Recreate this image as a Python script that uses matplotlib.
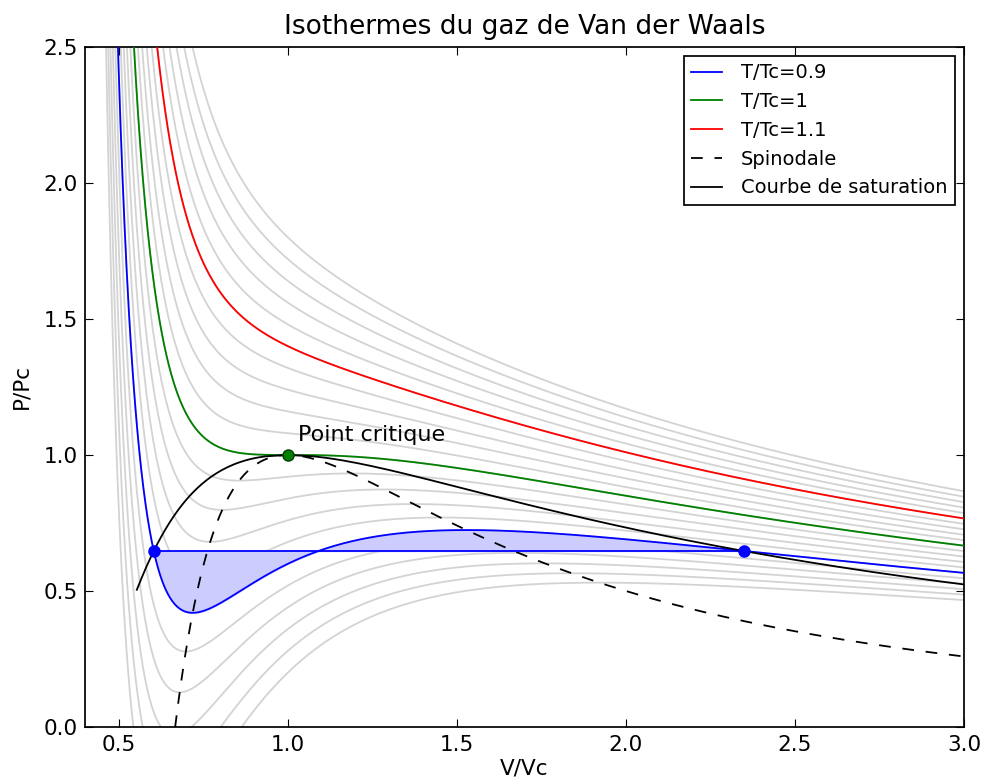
import numpy as np
import matplotlib
matplotlib.use('Agg')
import matplotlib.pyplot as plt

# reduced temperatures of the isotherm family (grey) and the highlighted ones
t_family = [0.80, 0.82, 0.84, 0.86, 0.88, 0.90, 0.92, 0.94, 0.96, 0.98, 1.00,
            1.02, 1.04, 1.06, 1.08, 1.10, 1.12, 1.14, 1.16, 1.18, 1.20]
t_highlight = [0.9, 1.0, 1.1]
highlight_colors = ['b', 'g', 'r']
highlight_labels = ['T/Tc=0.9', 'T/Tc=1', 'T/Tc=1.1']
t_saturation = (0.85, 1.0)   # range of the saturation curve
t_maxwell = 0.9              # isotherm with the Maxwell plateau


def vdw(v, t):
    # reduced Van der Waals equation
    return 8 * t / (3 * v - 1) - 3 / v ** 2


def roots(p, t):
    r = np.roots([3 * p, -(p + 8 * t), 9, -3])
    r = np.sort(r[np.abs(r.imag) < 1e-9].real)
    return r[0], r[-1]


def maxwell(t):
    if t >= 0.9999:
        return 1.0, 1.0, 1.0
    vv = np.linspace(0.4, 10, 20000)
    pp = vdw(vv, t)
    dp = np.diff(pp)
    idx = np.where(np.sign(dp[1:]) != np.sign(dp[:-1]))[0]
    pmin, pmax = pp[idx[0] + 1], pp[idx[1] + 1]
    lo, hi = max(pmin, 1e-6), pmax
    for _ in range(80):
        p = 0.5 * (lo + hi)
        vl, vg = roots(p, t)
        area = (8 * t / 3) * np.log((3 * vg - 1) / (3 * vl - 1)) + 3 * (1 / vg - 1 / vl) - p * (vg - vl)
        if area > 0:
            lo = p
        else:
            hi = p
    return p, vl, vg


plt.rcParams.update({
    'xtick.direction': 'in', 'ytick.direction': 'in',
    'xtick.top': True, 'ytick.right': True,
    'xtick.major.size': 5.5, 'ytick.major.size': 5.5,
    'xtick.major.pad': 6, 'ytick.major.pad': 5,
    'font.size': 15.5, 'axes.linewidth': 1.25,
})

fig = plt.figure(figsize=(9.86, 7.82), dpi=100)
ax = fig.add_axes([0.0862, 0.0703, 0.8915, 0.8697])

v = np.linspace(0.42, 3.05, 3000)
for t in t_family:
    ax.plot(v, vdw(v, t), color='lightgray', lw=1.3, zorder=1)

for t, c, lab in zip(t_highlight, highlight_colors, highlight_labels):
    ax.plot(v, vdw(v, t), color=c, lw=1.3, label=lab, zorder=3)

# spinodal
vs = np.linspace(2 / 3, 3.0, 500)
ax.plot(vs, (3 * vs - 2) / vs ** 3, 'k--', lw=1.3, dashes=(6.5, 6.5), label='Spinodale', zorder=3)

# saturation curve (Maxwell construction)
ts = np.linspace(t_saturation[0], t_saturation[1], 120)
sat = np.array([maxwell(t) for t in ts])
v_sat = np.concatenate([sat[:, 1], sat[::-1, 2]])
p_sat = np.concatenate([sat[:, 0], sat[::-1, 0]])
ax.plot(v_sat, p_sat, 'k-', lw=1.3, label='Courbe de saturation', zorder=4)

# Maxwell plateau for T/Tc=0.9
ps, vl, vg = maxwell(t_maxwell)
vf = np.linspace(vl, vg, 1000)
ax.fill_between(vf, vdw(vf, t_maxwell), ps, color=(0.8, 0.8, 1.0), zorder=2)
ax.plot([vl, vg], [ps, ps], 'b-', lw=1.3, zorder=3)
ax.plot([vl, vg], [ps, ps], 'bo', ms=8, zorder=5)

ax.plot([1.0], [1.0], 'o', color='g', mec='#004000', ms=8, zorder=5)
ax.text(1.03, 1.05, 'Point critique', fontsize=16)

ax.set_xlim(0.4, 3.0)
ax.set_ylim(0.0, 2.5)
ax.set_xticks([0.5, 1.0, 1.5, 2.0, 2.5, 3.0])
ax.set_yticks([0.0, 0.5, 1.0, 1.5, 2.0, 2.5])
ax.set_xlabel('V/Vc', labelpad=2)
ax.set_ylabel('P/Pc', labelpad=9)
ax.set_title('Isothermes du gaz de Van der Waals', fontsize=19, pad=9)

leg = ax.legend(loc='upper right', fancybox=False, framealpha=1, edgecolor='k',
                fontsize=14, handlelength=1.55, handletextpad=1.0, labelspacing=0.5,
                borderaxespad=0.45)
leg.get_frame().set_linewidth(1.25)

fig.savefig('out.png', dpi=100)
